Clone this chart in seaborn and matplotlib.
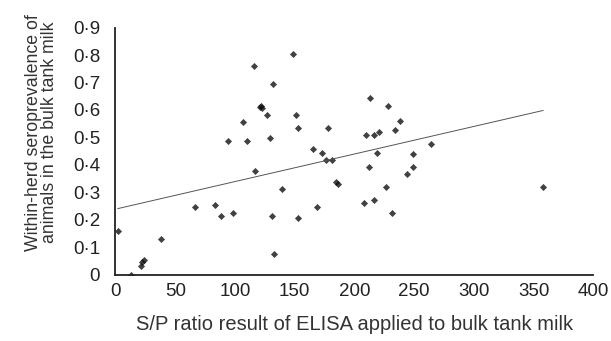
import matplotlib
matplotlib.use("Agg")
import matplotlib.pyplot as plt
import seaborn as sns
import pandas as pd

sp_ratio = [1.9, 12.8, 21.2, 22.5, 24.0, 37.9, 66.4, 82.9, 88.4, 98.2,
            94.3, 106.6, 110.0, 116.1, 116.9, 121.0, 122.0, 123.0, 127.0, 129.2,
            132.0, 130.9, 132.8, 139.0, 148.5, 151.0, 152.7, 152.4, 165.2, 168.6,
            173.0, 176.1, 181.4, 178.3, 184.5, 186.2, 208.2, 209.9, 212.6, 213.2,
            216.3, 216.6, 218.8, 220.2, 226.4, 228.3, 231.7, 238.1, 233.6, 264.1,
            249.0, 249.0, 244.2, 358.1]
seroprev = [0.160, 0.0, 0.031, 0.047, 0.053, 0.129, 0.247, 0.253, 0.213, 0.223,
            0.487, 0.556, 0.487, 0.761, 0.377, 0.610, 0.614, 0.608, 0.583, 0.498,
            0.693, 0.213, 0.075, 0.310, 0.804, 0.582, 0.535, 0.206, 0.456, 0.247,
            0.443, 0.419, 0.419, 0.533, 0.338, 0.331, 0.260, 0.507, 0.392, 0.644,
            0.507, 0.272, 0.444, 0.521, 0.318, 0.616, 0.224, 0.560, 0.525, 0.475,
            0.439, 0.393, 0.365, 0.318]
x_ticks = [0, 50, 100, 150, 200, 250, 300, 350, 400]
y_ticks = [0, 0.1, 0.2, 0.3, 0.4, 0.5, 0.6, 0.7, 0.8, 0.9]
y_tick_labels = ["0", "0·1", "0·2", "0·3", "0·4", "0·5", "0·6", "0·7", "0·8", "0·9"]

sns.set_style("white")
plt.rcParams['font.family'] = ['Liberation Sans', 'DejaVu Sans']

df = pd.DataFrame({"x": sp_ratio, "y": seroprev})

fig = plt.figure(figsize=(6.11, 3.41), dpi=100)
ax = fig.add_axes([0.189, 0.195, 0.782, 0.724])
sns.regplot(data=df, x="x", y="y", ax=ax, ci=None, truncate=True,
            marker="D",
            scatter_kws=dict(s=13, color="#111111", linewidths=0),
            line_kws=dict(color="#555555", linewidth=0.7))

ax.set_xlim(0, 400)
ax.set_ylim(0, 0.9)
ax.set_xticks(x_ticks)
ax.set_xticklabels([str(t) for t in x_ticks])
ax.set_yticks(y_ticks)
ax.set_yticklabels(y_tick_labels)
for s in ["top", "right"]:
    ax.spines[s].set_visible(False)
for s in ["left", "bottom"]:
    ax.spines[s].set_color("#222222")
    ax.spines[s].set_linewidth(1.3)
ax.tick_params(axis="x", direction="inout", length=6, width=1, color="#222222",
               labelsize=13.5, pad=3, labelcolor="#222222")
ax.tick_params(axis="y", length=0, labelsize=13.5, pad=11, labelcolor="#222222")
ax.set_xlabel("S/P ratio result of ELISA applied to bulk tank milk", fontsize=14.5,
              color="#333333", labelpad=11)
ax.set_ylabel("Within-herd seroprevalence of\nanimals in the bulk tank milk", fontsize=12.8,
              color="#333333", linespacing=0.95)
ax.yaxis.set_label_coords(-0.12, 0.575)

fig.savefig("out.png", dpi=100)
